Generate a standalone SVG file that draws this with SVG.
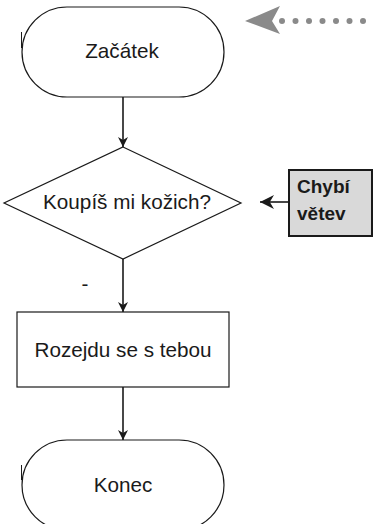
<svg xmlns="http://www.w3.org/2000/svg" width="374" height="524" viewBox="0 0 374 524">
  <style>
    .shape { fill: #ffffff; stroke: #1a1a1a; stroke-width: 1.2; }
    .label { font-family: "Liberation Sans", Arial, sans-serif; font-size: 20.7px; fill: #1a1a1a; text-anchor: middle; }
    .conn { stroke: #1a1a1a; stroke-width: 1.6; fill: none; }
    .note { fill: #d9d9d9; stroke: #1a1a1a; stroke-width: 2; }
    .note-text { font-family: "Liberation Sans", Arial, sans-serif; font-size: 19px; font-weight: bold; fill: #1a1a1a; }
    .dot { fill: #8a8a8a; }
  </style>
  <defs>
    <marker id="arrow" viewBox="0 0 10 10" refX="10" refY="5" markerWidth="10" markerHeight="10" markerUnits="userSpaceOnUse" orient="auto">
      <path d="M0,0 L10,5 L0,10 L3,5 Z" fill="#1a1a1a"/>
    </marker>
    <marker id="arrow-big" viewBox="0 0 10 10" refX="10" refY="5" markerWidth="18" markerHeight="14" markerUnits="userSpaceOnUse" orient="auto">
      <path d="M0,0 L10,5 L0,10 L3,5 Z" fill="#1a1a1a"/>
    </marker>
  </defs>

  <!-- connectors -->
  <g id="connectors">
    <line class="conn" x1="123" y1="97" x2="123" y2="147" marker-end="url(#arrow)"/>
    <line class="conn" x1="123" y1="259" x2="123" y2="312" marker-end="url(#arrow)"/>
    <text class="label" x="85" y="291">-</text>
    <line class="conn" x1="123" y1="387" x2="123" y2="440" marker-end="url(#arrow)"/>
    <line class="conn" x1="288" y1="202" x2="260" y2="202" stroke-width="2" marker-end="url(#arrow-big)"/>
  </g>

  <!-- start terminal -->
  <g id="start">
    <rect class="shape" x="22" y="7" width="202" height="90" rx="45" ry="45"/>
    <line x1="21.5" y1="32" x2="21.5" y2="48" stroke="#1a1a1a" stroke-width="1"/>
    <text class="label" x="122" y="58">Začátek</text>
  </g>

  <!-- decision -->
  <g id="decision">
    <polygon class="shape" points="123,147 241,203 123,259 4,203"/>
    <text class="label" x="127" y="209">Koupíš mi kožich?</text>
  </g>

  <!-- process -->
  <g id="process">
    <rect class="shape" x="17" y="312" width="212" height="75"/>
    <text class="label" x="123" y="357">Rozejdu se s tebou</text>
  </g>

  <!-- end terminal -->
  <g id="end">
    <rect class="shape" x="22" y="440" width="202" height="90" rx="45" ry="45"/>
    <line x1="21.5" y1="465" x2="21.5" y2="480" stroke="#1a1a1a" stroke-width="1"/>
    <text class="label" x="123" y="492">Konec</text>
  </g>

  <!-- missing branch note -->
  <g id="note">
    <rect class="note" x="289" y="170" width="83" height="66"/>
    <text class="note-text" x="297" y="193">Chybí</text>
    <text class="note-text" x="297" y="220">větev</text>
  </g>

  <!-- dotted pointer -->
  <g id="pointer">
    <path d="M245,21 L280,6 L272,21 L280,34 Z" fill="#8a8a8a"/>
    <circle class="dot" cx="282" cy="21" r="3"/>
    <circle class="dot" cx="295.5" cy="21" r="3"/>
    <circle class="dot" cx="309" cy="21" r="3"/>
    <circle class="dot" cx="322.5" cy="21" r="3"/>
    <circle class="dot" cx="336" cy="21" r="3"/>
    <circle class="dot" cx="349.5" cy="21" r="3"/>
    <circle class="dot" cx="363" cy="21" r="3"/>
  </g>
</svg>
